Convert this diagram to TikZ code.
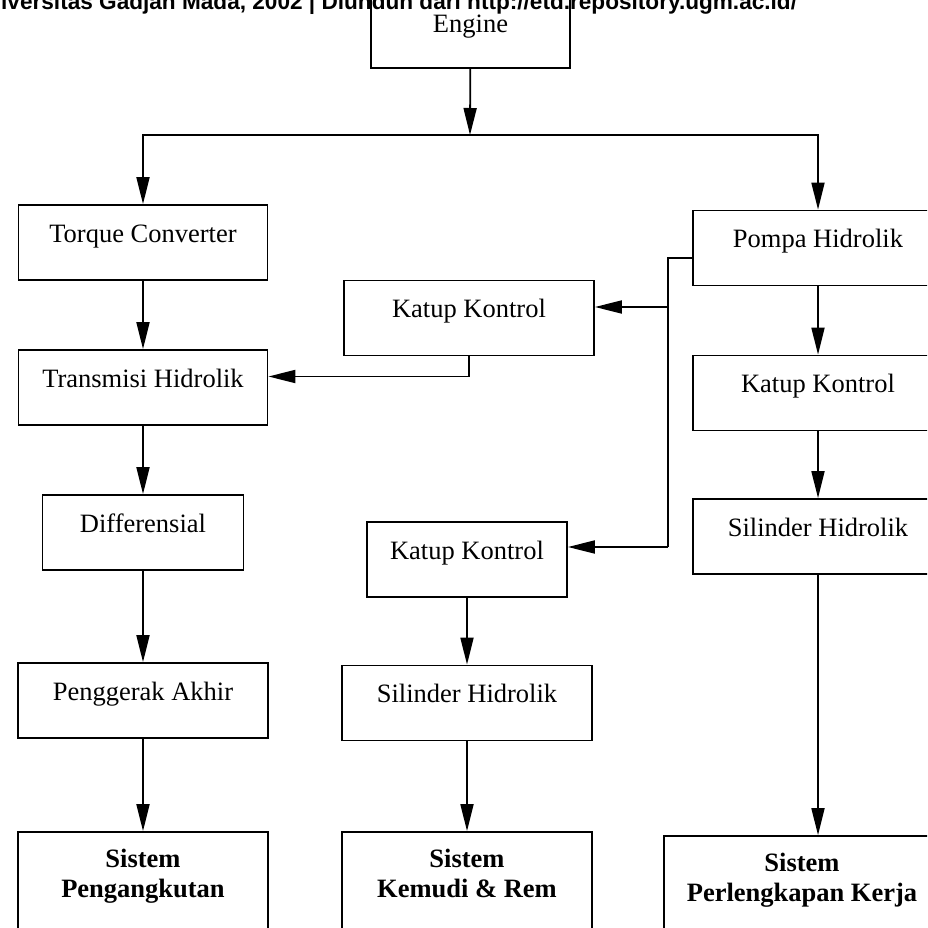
\documentclass[tikz,border=0pt]{standalone}
\usepackage{fontspec}
\setmainfont{Liberation Serif}
\newfontfamily\wmfont{Liberation Sans}
\usetikzlibrary{arrows.meta}

\begin{document}
\begin{tikzpicture}[x=1pt, y=-1pt,
    box/.style={draw, line width=1.8pt, minimum width=250pt, minimum height=75pt, inner sep=0pt,
      text height=19pt, text depth=20pt, font=\fontsize{26.5}{30}\selectfont},
    endbox/.style={draw, line width=1.8pt, minimum width=250pt, minimum height=110pt, inner sep=0pt},
    syslabel/.style={anchor=north, inner sep=0pt, yshift=-18pt, align=center,
      font=\bfseries\fontsize{26.5}{30}\selectfont},
    wire/.style={line width=1.8pt},
    arr/.style={line width=1.8pt, -{Triangle[length=27pt,width=13pt]}}]
      \useasboundingbox (0,0) rectangle (927,928);
      \clip (0,0) rectangle (927,928);
      \node[box, minimum width=199pt, minimum height=80pt, text depth=9pt] (engine) at (470.5,28) {Engine};
      \node[box, minimum width=249pt] (torque) at (143,242.5) {Torque Converter};
      \node[box, minimum width=249pt] (transmisi) at (143,387.5) {Transmisi Hidrolik};
      \node[box, minimum width=201pt] (diff) at (143,532.5) {Differensial};
      \node[box] (gerak) at (143,700.5) {Penggerak Akhir};
      \node[endbox, label={[syslabel]north:Sistem\\Pengangkutan}] (angkut) at (143,887) {};
      \node[box] (kk1) at (469,318) {Katup Kontrol};
      \node[box, minimum width=200pt] (kk2) at (467,559.5) {Katup Kontrol};
      \node[box] (sh1) at (467,703) {Silinder Hidrolik};
      \node[endbox, label={[syslabel]north:Sistem\\Kemudi \& Rem}] (kemudi) at (467,887) {};
      \node[box] (pompa) at (818,248) {Pompa Hidrolik};
      \node[box] (kk3) at (818,393) {Katup Kontrol};
      \node[box] (sh2) at (818,536.5) {Silinder Hidrolik};
      \node[endbox, minimum width=276pt, label={[syslabel]north:Sistem\\Perlengkapan Kerja}] (kerja) at (802,891) {};

      \coordinate (split) at (470,135);
      \draw[arr] (engine) -- (split);
      \draw[arr] (split) -| (torque);
      \draw[arr] (split) -| (pompa);
      \draw[arr] (torque) -- (transmisi);
      \draw[arr] (transmisi) -- (diff);
      \draw[arr] (diff) -- (gerak);
      \draw[arr] (gerak) -- (angkut);
      \draw[arr] (kk1.south) |- ([yshift=11pt]transmisi.east);
      \coordinate (busA) at (668,307);
      \coordinate (busB) at (668,547);
      \draw[wire] ([yshift=-10pt]pompa.west) -| (busB);
      \draw[arr] (busA) -- (busA -| kk1.east);
      \draw[arr] (busB) -- (busB -| kk2.east);
      \draw[arr] (kk2) -- (sh1);
      \draw[arr] (sh1) -- (kemudi);
      \draw[arr] (pompa) -- (kk3);
      \draw[arr] (kk3) -- (sh2);
      \draw[arr] (sh2.south) -- (sh2.south |- kerja.north);

      \node[anchor=base west, inner sep=0pt, font=\wmfont\bfseries\fontsize{22.6}{24}\selectfont] (wm) at (1,10)
        {iversitas Gadjah Mada, 2002 | Diunduh dari http://etd.repository.ugm.ac.id/};
    \end{tikzpicture}
\end{document}
